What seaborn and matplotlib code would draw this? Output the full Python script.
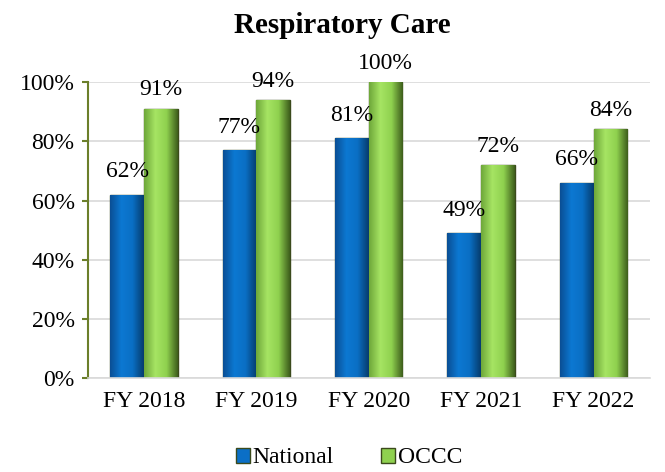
import matplotlib
matplotlib.use("Agg")
import matplotlib.pyplot as plt
import seaborn as sns
import pandas as pd
import numpy as np
from matplotlib.patches import Patch
from matplotlib.colors import LinearSegmentedColormap

categories = ["FY 2018", "FY 2019", "FY 2020", "FY 2021", "FY 2022"]
national = [62, 77, 81, 49, 66]
occc = [91, 94, 100, 72, 84]
series_names = ["National", "OCCC"]

df = pd.DataFrame({
    "year": categories * 2,
    "value": national + occc,
    "series": [series_names[0]] * len(categories) + [series_names[1]] * len(categories),
})

sns.set_theme(style="white")
plt.rcParams["font.family"] = ["Liberation Serif", "DejaVu Serif"]
plt.rcParams["text.color"] = "black"
plt.rcParams["xtick.color"] = "black"
plt.rcParams["ytick.color"] = "black"

fig = plt.figure(figsize=(6.65, 4.72), dpi=100)
ax = fig.add_axes([0.132, 0.199, 0.845, 0.627])

colors = {"National": "#0b6fc6", "OCCC": "#8fd14f"}
sns.barplot(data=df, x="year", y="value", hue="series", palette=colors,
            width=0.6, ax=ax, legend=False, edgecolor="#3b4a1c", linewidth=1.0,
            saturation=1)

ax.set_ylim(0, 100)
ax.set_xlim(-0.5, 4.5)

grad = {
    "National": LinearSegmentedColormap.from_list("nb", ["#0a4f95", "#0c78d2", "#0a6fc4", "#063c6e"]),
    "OCCC": LinearSegmentedColormap.from_list("og", ["#6fa83a", "#a6e463", "#8fd14f", "#3f5f1c"]),
}
gvals = np.linspace(0, 1, 64).reshape(1, -1)
offsets = {"National": 9, "OCCC": 6}
for cont, name in zip(ax.containers, series_names):
    for bar in cont:
        x0 = bar.get_x()
        w = bar.get_width()
        h = bar.get_height()
        im = ax.imshow(gvals, cmap=grad[name], aspect="auto",
                       extent=(x0, x0 + w, 0, h), zorder=bar.get_zorder() + 0.1)
        im.set_clip_path(bar)
        ax.annotate(f"{h:.0f}%", (x0 + w / 2, h),
                    xytext=(0, offsets[name]), textcoords="offset points",
                    ha="center", va="bottom", fontsize=17, color="black",
                    annotation_clip=False, zorder=5)
ax.set_xlim(-0.5, 4.5)
ax.set_ylim(0, 100)

ax.set_yticks([0, 20, 40, 60, 80, 100])
ax.set_yticklabels([f"{v}%" for v in [0, 20, 40, 60, 80, 100]], fontsize=17)
ax.yaxis.grid(True, color="#d9d9d9", linewidth=1.2)
ax.set_axisbelow(True)
ax.set_xlabel("")
ax.set_ylabel("")
ax.set_xticks(range(len(categories)))
ax.set_xticklabels(categories)
ax.tick_params(axis="x", labelsize=17, length=0, pad=9)
ax.set_xticks(np.arange(-0.5, 5, 1), minor=True)
ax.tick_params(axis="x", which="minor", length=5, color="#d9d9d9", width=1.2)
ax.tick_params(axis="y", length=4.5, color="#6b7f2a", width=1.5, direction="out", left=True, pad=5)

for s in ["top", "right"]:
    ax.spines[s].set_visible(False)
ax.spines["left"].set_color("#6b7f2a")
ax.spines["left"].set_linewidth(1.5)
ax.spines["bottom"].set_color("#d9d9d9")
ax.spines["bottom"].set_linewidth(1.2)

fig.text(0.515, 0.947, "Respiratory Care", ha="center", va="center",
         fontsize=21, fontweight="bold", color="black")

handles = [Patch(facecolor=colors[n], edgecolor="#3b4a1c", label=n) for n in series_names]
fig.legend(handles=handles, loc="center", bbox_to_anchor=(0.525, 0.03), ncol=2,
           frameon=False, fontsize=17, handlelength=0.6, handleheight=0.6,
           handletextpad=0.1, columnspacing=2.0)

fig.savefig("out.png", dpi=100)
